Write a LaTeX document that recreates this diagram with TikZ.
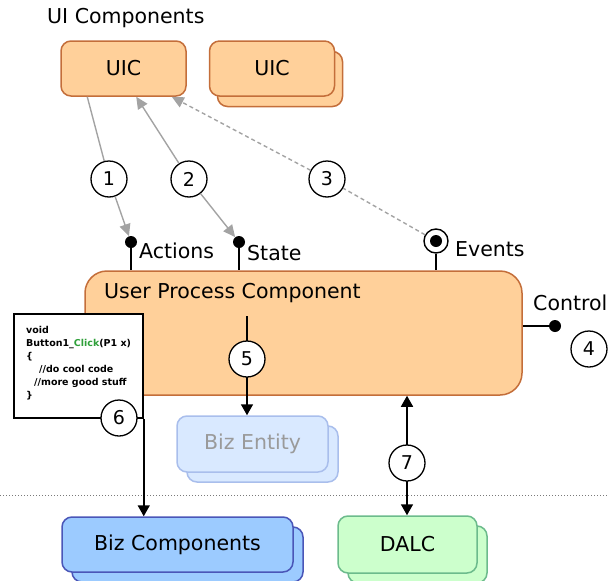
\documentclass[tikz,border=0pt]{standalone}
\usepackage{fontspec}
\setmainfont{DejaVu Sans}
\usetikzlibrary{arrows.meta,calc}

\definecolor{uicfill}{HTML}{FFD09A}
\definecolor{uicdraw}{HTML}{C46E3A}
\definecolor{bizfill}{HTML}{9CCBFF}
\definecolor{bizdraw}{HTML}{4A56B8}
\definecolor{dalcfill}{HTML}{CCFFCC}
\definecolor{dalcdraw}{HTML}{6CBB8C}
\definecolor{entfill}{HTML}{D9E9FF}
\definecolor{entdraw}{HTML}{A9BEEC}
\definecolor{enttext}{HTML}{9A9A9A}
\definecolor{linkgray}{HTML}{A3A3A3}
\definecolor{dividergray}{HTML}{7A7A7A}
\definecolor{codegreen}{HTML}{2FA03A}

\newcommand\labfont{\fontsize{20.5}{24}\selectfont}
\newcommand\numfont{\fontsize{19}{22}\selectfont}
\newcommand\codefont{\fontsize{9.5}{13}\selectfont\bfseries}

\begin{document}
\begin{tikzpicture}[x=1pt,y=-1pt,
  box/.style={rounded corners=10pt, line width=1.5pt, inner sep=0pt, font=\labfont},
  uicbox/.style={box, draw=uicdraw, fill=uicfill, minimum width=125pt, minimum height=55pt},
  bizbox/.style={box, draw=bizdraw, fill=bizfill, minimum width=231pt, minimum height=55pt},
  dalcbox/.style={box, draw=dalcdraw, fill=dalcfill, minimum width=139pt, minimum height=57pt},
  entbox/.style={box, draw=entdraw, fill=entfill, text=enttext, minimum width=151pt, minimum height=56pt},
  lab/.style={font=\labfont, inner sep=0pt, anchor=west},
  numcirc/.style={circle, draw=black, fill=white, line width=1.3pt, minimum size=36pt, inner sep=0pt, font=\numfont},
  dot/.style={circle, fill=black, minimum size=12pt, inner sep=0pt},
  ring/.style={circle, draw=black, line width=1.4pt, minimum size=24pt, inner sep=0pt},
  wire/.style={line width=1.6pt},
  arr/.style={wire, -{Triangle[length=11pt,width=12pt]}},
  dblarr/.style={wire, {Triangle[length=11pt,width=12pt]}-{Triangle[length=11pt,width=12pt]}},
  grayline/.style={linkgray, line width=1.4pt},
  grayarr/.style={grayline, -{Triangle[length=12pt,width=11pt]}},
  graydash/.style={dash pattern=on 4pt off 3pt},
]
\useasboundingbox (0,0) rectangle (608,581);

% UI layer
\node[lab] (uititle) at (47,18) {UI Components};
\node[uicbox] (uic1) at (123.5,68.5) {UIC};
\node[uicbox] (uic2back) at (280,79) {};
\node[uicbox] (uic2) at (272,68.5) {UIC};

% user process component
\node[box, draw=uicdraw, fill=uicfill, rounded corners=22pt,
      minimum width=437pt, minimum height=124pt] (upc) at (303.5,333) {};
\node[lab] (upclabel) at (104,293) {User Process Component};

% business entity
\node[entbox] (entback) at (262.5,454) {};
\node[entbox] (ent) at (252.5,444) {Biz Entity};

% layer divider
\draw[dividergray, line width=1pt, dash pattern=on 1pt off 2pt] (0,495) -- (608,495);

% lower layer
\node[bizbox] (bizback) at (187.5,554.5) {};
\node[bizbox] (biz) at (177.5,544.5) {Biz Components};
\node[dalcbox] (dalcback) at (417.5,554.5) {};
\node[dalcbox] (dalc) at (407.5,544.5) {DALC};

% ports on the process component
\node[dot] (actdot) at (131,242) {};
\node[dot] (statedot) at (239,242) {};
\node[dot] (evdot) at (436,241) {};
\node[ring] (evring) at (436,241) {};
\draw[wire] (actdot) -- (actdot |- upc.north);
\draw[wire] (statedot) -- (statedot |- upc.north);
\draw[wire] (evring) -- (evring |- upc.north);
\node[lab] (actlab) at (139,251) {Actions};
\node[lab] (statelab) at (247,253) {State};
\node[lab] (evlab) at (455,249) {Events};

\node[dot] (ctldot) at (555,326) {};
\draw[wire] (upc.east |- ctldot) -- (ctldot);
\node[lab] (ctllab) at (533,303) {Control};
\node[numcirc] (n4) at (589,349) {4};

% interactions with the UI
\node[numcirc] (n1) at (109,179) {1};
\node[numcirc] (n2) at (189,179) {2};
\node[numcirc] (n3) at (327,179) {3};
\draw[grayline] ($(uic1.south west)+(27,0)$) -- (n1);
\draw[grayarr] (n1) -- (actdot);
\draw[grayarr] (n2) -- ($(uic1.south west)+(76,0)$);
\draw[grayarr] (n2) -- (statedot);
\draw[grayline, graydash] (evring) -- (n3);
\draw[grayarr, graydash] (n3) -- ($(uic1.south east)+(-15,0)$);

% code-behind box
\node[draw=black, fill=white, line width=1.5pt, minimum width=129pt,
      minimum height=104pt, inner sep=0pt] (code) at (78.5,366) {};
\node[anchor=north west, align=left, font=\codefont, inner sep=0pt] (codetext) at (26,326)
  {void\\
   Button1\_{\color{codegreen}Click}(P1 x)\\
   \{\\
   \hspace*{13pt}//do cool code\\
   \hspace*{8pt}//more good stuff\\
   \}};
\draw[arr] (code.south east) -- (code.south east |- biz.north);
\node[numcirc] (n6) at (119,418) {6};

% entity and data access
\coordinate (c5top) at (247,316);
\draw[arr] (c5top) -- (c5top |- ent.north);
\node[numcirc] (n5) at (247,359) {5};

\coordinate (c7) at (407,463);
\draw[dblarr] (upc.south -| c7) -- (dalc.north -| c7);
\node[numcirc] (n7) at (c7) {7};
\end{tikzpicture}
\end{document}
